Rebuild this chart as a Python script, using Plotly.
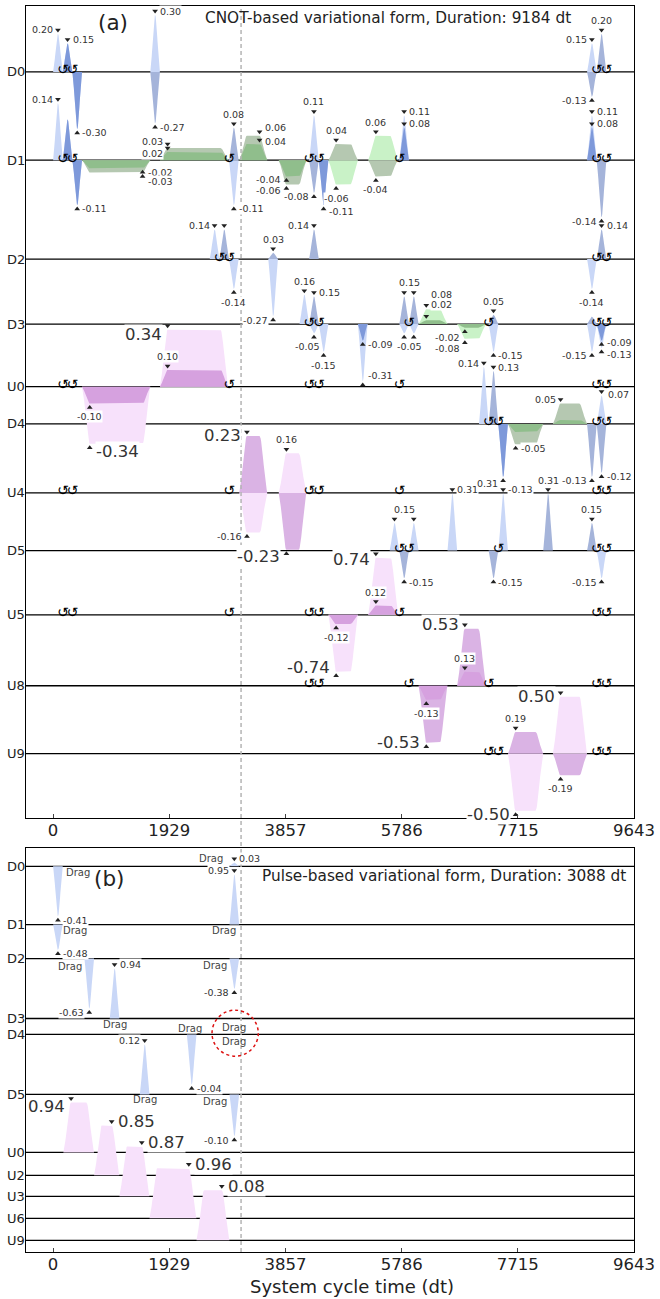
import numpy as np
import plotly.graph_objects as go

FONT = "DejaVu Sans"
T_RANGE = [-450, 9643]
T_TICKS = [0, 1929, 3857, 5786, 7715, 9643]
REF_T = 3120          # duration marker shared by both schedules
RISE = 128            # rise/fall of GaussianSquare pulses (dt)

# ---------------- (a) CNOT-based variational form ----------------
A_CHANNELS = ["D0", "D1", "D2", "D3", "U0", "D4", "U4", "D5", "U5", "U8", "U9"]
A_BASE = [66, 154.3, 253.3, 318.3, 381, 418.3, 487.3, 545, 609.3, 680.3, 748.3]

# waveforms: (start dt, duration dt, shape g=Gaussian s=GaussianSquare, real, imag)
A_D0 = [(0, 160, "g", 0.20, 0.0), (160, 160, "g", 0.15, 0.15), (320, 160, "g", -0.30, -0.30),
        (1613, 160, "g", 0.30, -0.27), (8864, 160, "g", 0.15, -0.13), (9024, 160, "g", 0.0, 0.20)]
A_D1 = [(0, 160, "g", 0.14, 0.0), (160, 160, "g", 0.10, 0.10), (320, 160, "g", -0.11, -0.11),
        (480, 1133, "s", -0.02, -0.03), (1773, 1133, "s", 0.02, 0.03), (2920, 160, "g", -0.11, 0.08),
        (3090, 465, "s", 0.04, 0.06), (3745, 460, "s", -0.04, -0.06), (4250, 160, "g", 0.11, -0.08),
        (4410, 160, "g", -0.11, -0.11), (4570, 490, "s", -0.06, 0.04), (5230, 490, "s", 0.06, -0.04),
        (5747, 160, "g", 0.11, 0.08), (8864, 160, "g", 0.11, 0.08), (9024, 160, "g", 0.0, -0.14)]
A_D2 = [(2600, 160, "g", 0.14, 0.0), (2760, 160, "g", 0.0, 0.14), (2920, 160, "g", -0.14, 0.0),
        (3572, 160, "g", -0.27, 0.03), (4250, 160, "g", 0.0, 0.14), (8864, 160, "g", -0.14, 0.0),
        (9024, 160, "g", 0.0, 0.14)]
A_D3 = [(4090, 160, "g", 0.16, 0.0), (4250, 160, "g", -0.05, 0.15), (4410, 160, "g", -0.15, 0.0),
        (5060, 160, "g", -0.31, -0.09), (5747, 160, "g", -0.05, 0.15), (5907, 160, "g", -0.05, 0.15),
        (6067, 480, "s", 0.08, 0.02), (6707, 480, "s", -0.08, -0.02), (7230, 160, "g", -0.15, 0.05),
        (8864, 160, "g", -0.15, 0.04), (9024, 160, "g", -0.13, -0.09)]
A_U0 = [(480, 1133, "s", -0.34, -0.10), (1773, 1133, "s", 0.34, 0.10)]
A_D4 = [(7070, 160, "g", 0.14, 0.0), (7230, 160, "g", 0.0, 0.13), (7390, 160, "g", -0.13, -0.13),
        (7550, 586, "s", -0.02, -0.05), (8296, 568, "s", 0.01, 0.05), (8864, 160, "g", 0.0, -0.13),
        (9024, 160, "g", 0.07, -0.12)]
A_U4 = [(3090, 465, "s", -0.16, 0.23), (3745, 460, "s", 0.16, -0.23)]
A_D5 = [(5587, 160, "g", 0.15, 0.0), (5747, 160, "g", 0.0, -0.15), (5907, 160, "g", 0.15, 0.0),
        (6547, 160, "g", 0.31, 0.0), (7230, 160, "g", 0.0, -0.15), (7390, 160, "g", 0.31, 0.0),
        (8136, 160, "g", 0.0, 0.31), (8864, 160, "g", 0.0, 0.15), (9024, 160, "g", -0.15, 0.0)]
A_U5 = [(4570, 490, "s", -0.74, -0.12), (5230, 500, "s", 0.74, 0.12)]
A_U8 = [(6067, 480, "s", -0.13, -0.53), (6707, 480, "s", 0.13, 0.53)]
A_U9 = [(7550, 586, "s", -0.50, 0.19), (8296, 568, "s", 0.50, -0.19)]

# value-label placement for (real, imag): side[,dx,dy][@flat position]; "m" = marker only
A_D0_LBL = [("l", ""), ("r", ""), ("r", ""), ("r", "r"), ("l", "l"), ("", "t")]
A_D1_LBL = [("l", ""), ("", ""), ("r", ""), ("r@1", "r,0,5@1"), ("l,0,5", "l,0,-2"), ("r", "t"),
            ("r,0,2@1", "r,0,-4@1"), ("l,0,-1", "l,0,2"), ("t", "l"), ("r,0,3", ""), ("b", "t"),
            ("t", "b"), ("r", "r"), ("r", "r"), ("", "l")]
A_D2_LBL = [("l", ""), ("", "m"), ("b", ""), ("l", "t"), ("", "l"), ("b", ""), ("", "r")]
A_D3_LBL = [("t", ""), ("b,-6,0", "r"), ("b", ""), ("r,0,-10", "r"), ("b,5,0", "t,5,0"), ("m", "m"),
            ("r,0,-11", "r,0,-12"), ("l,0,6", "l,0,6"), ("r", "t"), ("l", ""), ("r,0,3", "r,0,-2")]
A_U0_LBL = [("r,0,4", "b"), ("l,0,9", "t")]
A_D4_LBL = [("l", ""), ("", "r"), ("r,0,9", ""), ("", "r"), ("", "l"), ("", "l"), ("r,1,3", "r")]
A_U4_LBL = [("l", "l,0,4"), ("t", "l,0,3")]
A_D5_LBL = [("t,10,0", ""), ("", "r"), ("m", ""), ("r", ""), ("", "r"), ("l,0,-6", ""), ("", "t"),
            ("", "t"), ("l", "")]
A_U5_LBL = [("l,0,-8", "b"), ("l,0,6", "t")]
A_U8_LBL = [("b", "l,0,-4"), ("t", "l")]
A_U9_LBL = [("l", "t"), ("l,0,4", "b")]

# frame shifts (virtual Z) per channel, dt
A_VZ = [[160, 320, 9024, 9184],
        [160, 320, 2920, 4250, 4410, 5747, 9024, 9184],
        [2760, 2920, 9024, 9184],
        [4250, 4410, 5907, 7230, 9024, 9184],
        [160, 320, 2920, 4250, 4410, 5747, 9024, 9184],
        [7230, 7390, 9024, 9184],
        [160, 320, 2920, 4250, 4410, 5747, 9024, 9184],
        [5747, 5907, 7390, 9024, 9184],
        [160, 320, 2920, 4250, 4410, 5747, 9024, 9184],
        [4250, 4410, 5907, 7230, 9024, 9184],
        [7230, 7390, 9024, 9184]]

# ---------------- (b) pulse-based variational form ----------------
B_CHANNELS = ["D0", "D1", "D2", "D3", "D4", "D5", "U0", "U2", "U3", "U6", "U9"]
B_BASE = [18, 76.3, 110.3, 170.3, 186.3, 246.3, 304.3, 327.3, 348.3, 370.3, 392.3]

B_D0 = [(0, 160, "g", -0.41, 0.0), (2928, 160, "g", 0.03, 0.0)]
B_D1 = [(0, 160, "g", -0.48, 0.0), (2928, 160, "g", 0.95, 0.0)]
B_D2 = [(520, 160, "g", -0.63, 0.0), (2928, 160, "g", -0.38, 0.0)]
B_D3 = [(940, 160, "g", 0.94, 0.0), (2928, 160, "g", 0.0, 0.0)]
B_D4 = [(2220, 160, "g", -0.04, 0.0), (2928, 160, "g", 0.0, 0.0)]
B_D5 = [(1440, 160, "g", 0.12, 0.0), (2928, 160, "g", -0.10, 0.0)]
B_U0 = [(170, 510, "s", 0.94, 0.0)]
B_U2 = [(680, 420, "s", 0.85, 0.0)]
B_U3 = [(1100, 500, "s", 0.87, 0.0)]
B_U6 = [(1600, 780, "s", 0.96, 0.0)]
B_U9 = [(2380, 548, "s", 0.08, 0.0)]

B_D0_LBL = [("r", ""), ("r", "")]
B_D1_LBL = [("r", ""), ("l", "")]
B_D2_LBL = [("l", ""), ("l", "")]
B_D3_LBL = [("r", ""), ("", "")]
B_D4_LBL = [("r", ""), ("", "")]
B_D5_LBL = [("l", ""), ("l", "")]
B_U0_LBL = [("l,0,8", "")]
B_U2_LBL = [("r@1", "")]
B_U3_LBL = [("r@1", "")]
B_U6_LBL = [("r@1", "")]
B_U9_LBL = [("r@1", "")]

# pulse-name tag offsets (px from pulse centre / baseline) for the drive channels
B_TAGS = [[(20, 6), (-23, -8)], [(17, 6), (-10, 6)], [(-19, 8), (-19, 7)],
          [(0, 6), (0, 9)], [(-2, -6), (0, 7)], [(0, 5), (-19, 7)]]
B_TAG_TEXT = "Drag"

PALETTE = {
    "blue": {"re": "#c9d7f7", "im": "#a5b4da", "ov": "#7e99da"},
    "green": {"re": "#c9f2c7", "im": "#b5c8b1", "ov": "#90be8c"},
    "purple": {"re": "#f7e1fb", "im": "#dab3e4", "ov": "#d6a1df"},
}

A_WAVES = [A_D0, A_D1, A_D2, A_D3, A_U0, A_D4, A_U4, A_D5, A_U5, A_U8, A_U9]
A_LBLS = [A_D0_LBL, A_D1_LBL, A_D2_LBL, A_D3_LBL, A_U0_LBL, A_D4_LBL, A_U4_LBL, A_D5_LBL,
          A_U5_LBL, A_U8_LBL, A_U9_LBL]
B_WAVES = [B_D0, B_D1, B_D2, B_D3, B_D4, B_D5, B_U0, B_U2, B_U3, B_U6, B_U9]
B_LBLS = [B_D0_LBL, B_D1_LBL, B_D2_LBL, B_D3_LBL, B_D4_LBL, B_D5_LBL, B_U0_LBL, B_U2_LBL,
          B_U3_LBL, B_U6_LBL, B_U9_LBL]


def lifted(d, sig):
    g0 = np.exp(-2.0)
    return (np.exp(-d ** 2 / (2 * sig ** 2)) - g0) / (1 - g0)


def envelope(t0, dur, kind):
    if kind == "g":
        t = np.linspace(t0, t0 + dur, 41)
        e = lifted(t - (t0 + dur / 2), dur / 4)
    else:
        rf = min(RISE, dur / 2)
        t = np.concatenate([np.linspace(t0, t0 + rf, 16), np.linspace(t0 + dur - rf, t0 + dur, 16)])
        e = np.where(t < t0 + rf, lifted(t - (t0 + rf), rf / 2),
                     np.where(t > t0 + dur - rf, lifted(t - (t0 + dur - rf), rf / 2), 1.0))
    return t, np.clip(e, 0, 1)


def parse_spec(spec):
    if not spec:
        return None
    if spec == "m":
        return ("m", 0, 0, 0.0)
    pos = 0.0
    if "@" in spec:
        spec, p = spec.split("@")
        pos = float(p)
    parts = spec.split(",")
    side = parts[0]
    dx = float(parts[1]) if len(parts) > 1 else 0
    dy = float(parts[2]) if len(parts) > 2 else 0
    return (side, dx, dy, pos)


fig = go.Figure()
annotations = []
marks = {"x": {"up": ([], []), "dn": ([], [])}, "x2": {"up": ([], []), "dn": ([], [])}}


def draw_panel(xa, ya, channels, bases, waves, lbls, height):
    # baselines
    for base in bases:
        fig.add_trace(go.Scatter(x=T_RANGE, y=[base, base], mode="lines",
                                 line=dict(color="black", width=1.3), xaxis=xa, yaxis=ya,
                                 hoverinfo="skip", showlegend=False))
    for ch, base, wl, ll in zip(channels, bases, waves, lbls):
        peak = max([max(abs(w[3]), abs(w[4])) for w in wl] + [1e-9])
        scale = height / peak
        for w, lab in zip(wl, ll):
            t0, dur, kind, re, im = w
            fam = "purple" if ch.startswith("U") else ("blue" if kind == "g" else "green")
            cols = PALETTE[fam]
            t, e = envelope(t0, dur, kind)
            if re * im > 0:
                parts = [(re, cols["re"]), (im, cols["ov"])] if abs(re) >= abs(im) else \
                        [(im, cols["im"]), (re, cols["ov"])]
            else:
                parts = [(re, cols["re"]), (im, cols["im"])]
            for amp, c in parts:
                if amp == 0:
                    continue
                xs = np.concatenate([[t[0]], t, [t[-1]]])
                ys = np.concatenate([[base], base - amp * scale * e, [base]])
                fig.add_trace(go.Scatter(x=xs, y=ys, mode="lines", fill="toself", fillcolor=c,
                                         line=dict(width=0), xaxis=xa, yaxis=ya,
                                         hoverinfo="skip", showlegend=False))
            big_v = max(abs(re), abs(im))
            for val, spec in ((re, lab[0]), (im, lab[1])):
                sp = parse_spec(spec)
                if sp is None or val == 0:
                    continue
                side, dx, dy, pos = sp
                if kind == "g":
                    tm = t0 + dur / 2
                else:
                    rf = min(RISE, dur / 2)
                    tm = t0 + rf + pos * (dur - 2 * rf)
                sgn = 1 if val > 0 else -1
                ym = base - val * scale - 4 * sgn
                key = "dn" if val > 0 else "up"
                marks[xa][key][0].append(tm)
                marks[xa][key][1].append(ym)
                if side == "m":
                    continue
                big = ch.startswith("U") and abs(val) == big_v
                size = 16.5 if big else 9.5
                a = dict(x=tm, y=ym + dy, xref=xa, yref=ya, text=f"{val:.2f}", showarrow=False,
                         font=dict(family=FONT, size=size, color="#333"), bgcolor="white",
                         borderpad=0, xshift=dx)
                gap = 4 if not big else 5
                if side == "l":
                    a.update(xanchor="right", yanchor="middle", xshift=dx - gap)
                elif side == "r":
                    a.update(xanchor="left", yanchor="middle", xshift=dx + gap)
                elif side == "t":
                    a.update(xanchor="center", yanchor="bottom", y=ym - 3 + dy)
                else:
                    a.update(xanchor="center", yanchor="top", y=ym + 3 + dy)
                annotations.append(a)
        annotations.append(dict(x=0, xref="paper", y=base, yref=ya, text=ch, showarrow=False,
                                xanchor="right", yanchor="middle", xshift=1,
                                font=dict(family=FONT, size=13, color="#222")))


draw_panel("x", "y", A_CHANNELS, A_BASE, A_WAVES, A_LBLS, 57)
draw_panel("x2", "y2", B_CHANNELS, B_BASE, B_WAVES, B_LBLS, 50)

# frame-change glyphs
vx, vy = [], []
for base, times in zip(A_BASE, A_VZ):
    vx += times
    vy += [base - 1] * len(times)
fig.add_trace(go.Scatter(x=vx, y=vy, mode="text", text=["↺"] * len(vx),
                         textfont=dict(family=FONT, size=14, color="black"),
                         xaxis="x", yaxis="y", hoverinfo="skip", showlegend=False))

# pulse-name tags in (b)
for base, wl, tags in zip(B_BASE[:6], B_WAVES[:6], B_TAGS):
    for w, (dx, dy) in zip(wl, tags):
        annotations.append(dict(x=w[0] + w[1] / 2, y=base + dy, xref="x2", yref="y2",
                                text=B_TAG_TEXT, showarrow=False, xshift=dx,
                                xanchor="center", yanchor="middle",
                                font=dict(family=FONT, size=10, color="#444")))

# extremum markers
for xa, ya in (("x", "y"), ("x2", "y2")):
    for key, sym in (("dn", "triangle-down"), ("up", "triangle-up")):
        xs, ys = marks[xa][key]
        fig.add_trace(go.Scatter(x=xs, y=ys, mode="markers",
                                 marker=dict(symbol=sym, size=5, color="#222"),
                                 xaxis=xa, yaxis=ya, hoverinfo="skip", showlegend=False))


def px_x(p):
    return (p - 26) / 612


def px_y(p):
    return (1252 - p) / 1247


def paper_text(px, py, text, size, xanchor="center"):
    return dict(x=px_x(px), y=px_y(py), xref="paper", yref="paper", text=text,
                showarrow=False, xanchor=xanchor, yanchor="middle",
                font=dict(family=FONT, size=size, color="#222"))


annotations += [
    paper_text(114, 22, "(a)", 21.5),
    paper_text(204, 17, "CNOT-based variational form, Duration: 9184 dt", 15.3, "left"),
    paper_text(110, 878, "(b)", 21.5),
    paper_text(632, 876, "Pulse-based variational form, Duration: 3088 dt", 15.3, "right"),
    paper_text(354, 1287, "System cycle time (dt)", 18),
]

shapes = [
    dict(type="line", xref="x", yref="paper", x0=REF_T, x1=REF_T, y0=0, y1=1,
         line=dict(color="#b4b4b4", width=1.5, dash="4px,3px"), layer="above"),
    dict(type="circle", xref="x2", yref="y2", x0=3022 - 384, x1=3022 + 384, y0=162, y1=208,
         line=dict(color="#dd1111", width=1.5, dash="dot"), layer="above"),
]

xcommon = dict(range=T_RANGE, tickvals=T_TICKS, ticktext=[str(v) for v in T_TICKS],
               ticks="inside", ticklen=4, tickcolor="#444", showline=True, mirror=True,
               linecolor="black", linewidth=1.2, showgrid=False, zeroline=False,
               ticklabelstandoff=-3,
               tickfont=dict(family=FONT, size=16.5, color="#222"))
ycommon = dict(showline=True, mirror=True, linecolor="black", linewidth=1.2, showgrid=False,
               zeroline=False, showticklabels=False, ticks="")

fig.update_layout(
    width=660, height=1299, margin=dict(l=26, r=22, t=5, b=47),
    paper_bgcolor="white", plot_bgcolor="white", showlegend=False,
    xaxis=dict(xcommon, anchor="y"),
    yaxis=dict(ycommon, domain=[0.34804, 1.0], range=[813, 0], anchor="x"),
    xaxis2=dict(xcommon, anchor="y2"),
    yaxis2=dict(ycommon, domain=[0.0, 0.32398], range=[404, 0], anchor="x2"),
    annotations=annotations, shapes=shapes,
    font=dict(family=FONT),
)

fig.write_html("out.html")
